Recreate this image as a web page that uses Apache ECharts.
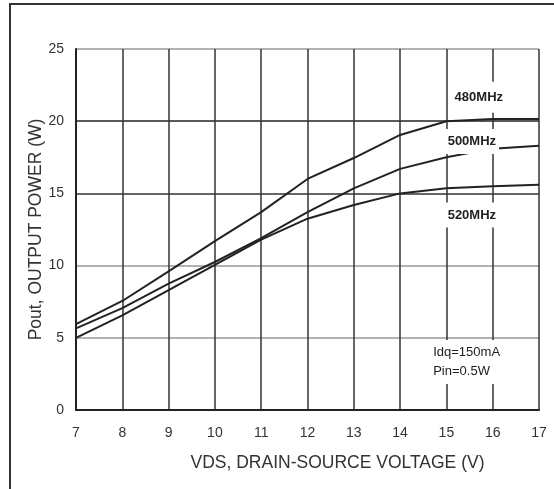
<!DOCTYPE html>
<html><head><meta charset="utf-8">
<script src="https://cdn.jsdelivr.net/npm/echarts@6/dist/echarts.min.js"></script>
<style>html,body{margin:0;padding:0;background:#fff}#c{width:554px;height:489px}</style>
</head><body><div id="c"></div>
<script>
const voltages = [7, 8, 9, 10, 11, 12, 13, 14, 15, 16, 17];
const p480 = [5.95, 7.55, 9.6, 11.7, 13.7, 16.0, 17.45, 19.05, 20.0, 20.15, 20.15];
const p500 = [5.65, 7.05, 8.75, 10.25, 11.9, 13.7, 15.35, 16.7, 17.5, 18.1, 18.3];
const p520 = [5.0, 6.55, 8.3, 10.05, 11.8, 13.25, 14.2, 15.0, 15.35, 15.5, 15.6];
const yTicks = [0, 5, 10, 15, 20, 25];
const curveNames = ['480MHz', '500MHz', '520MHz'];
const labelPos = [[15.7, 21.65], [15.55, 18.6], [15.55, 13.5]];
const noteText = 'Idq=150mA\nPin=0.5W';
const notePos = [14.65, 3.33];

const chart = echarts.init(document.getElementById('c'));
const FONT = '"Liberation Sans", Arial, sans-serif';
function mk(name, vals, idx) {
  return {
    type: 'line', name: name, data: voltages.map((v, i) => [v, vals[i]]),
    symbol: 'none', smooth: false, z: 3,
    lineStyle: { color: '#222', width: 2 },
    markPoint: {
      symbol: 'rect', symbolSize: 0, z: 10,
      data: [{ coord: labelPos[idx], value: name }],
      label: { show: true, position: 'inside', formatter: name, color: '#222', fontFamily: FONT,
        fontWeight: 'bold', fontSize: 13, backgroundColor: '#fff', padding: idx === 0 ? [9, 3, 9, 3] : [6, 3, 6, 3] }
    }
  };
}
const series = [mk(curveNames[0], p480, 0), mk(curveNames[1], p500, 1), mk(curveNames[2], p520, 2)];
series.push({
  type: 'scatter', data: [], markPoint: {
    symbol: 'rect', symbolSize: 0, z: 10,
    data: [{ coord: notePos }],
    label: { show: true, position: 'inside', formatter: noteText, color: '#222', fontFamily: FONT,
      fontSize: 13, lineHeight: 19, align: 'left', backgroundColor: '#fff', padding: [3, 9, 3, 3] }
  }
});
chart.setOption({
  animation: false,
  grid: { left: 76, right: 15, top: 49, bottom: 79 },
  xAxis: {
    type: 'value', min: 7, max: 17, interval: 1,
    name: 'VDS, DRAIN-SOURCE VOLTAGE (V)', nameLocation: 'middle', nameGap: 44,
    nameTextStyle: { fontFamily: FONT, fontSize: 17.5, color: '#333', padding: [0, 0, 0, 60] },
    axisLine: { lineStyle: { color: '#222', width: 2 } },
    axisTick: { show: false },
    axisLabel: { fontFamily: FONT, fontSize: 14, color: '#333', margin: 16 },
    splitLine: { show: true, lineStyle: { color: '#333', width: 1.5 } }
  },
  yAxis: {
    type: 'value', min: 0, max: 25, interval: 5,
    name: 'Pout, OUTPUT POWER (W)', nameLocation: 'middle', nameGap: 31, nameMoveOverlap: false,
    nameTextStyle: { fontFamily: FONT, fontSize: 17.5, color: '#333' },
    axisLine: { show: true, lineStyle: { color: '#222', width: 2 } },
    axisTick: { show: false },
    axisLabel: { fontFamily: FONT, fontSize: 14, color: '#333', margin: 12 },
    splitLine: { show: true, lineStyle: { color: ['#333', '#999', '#999', '#333', '#222', '#999'], width: 1.5 } }
  },
  graphic: [{ type: 'rect', shape: { x: 10, y: 4, width: 600, height: 600 }, style: { fill: null, stroke: '#333', lineWidth: 2 }, silent: true }],
  series: series
});
</script></body></html>
